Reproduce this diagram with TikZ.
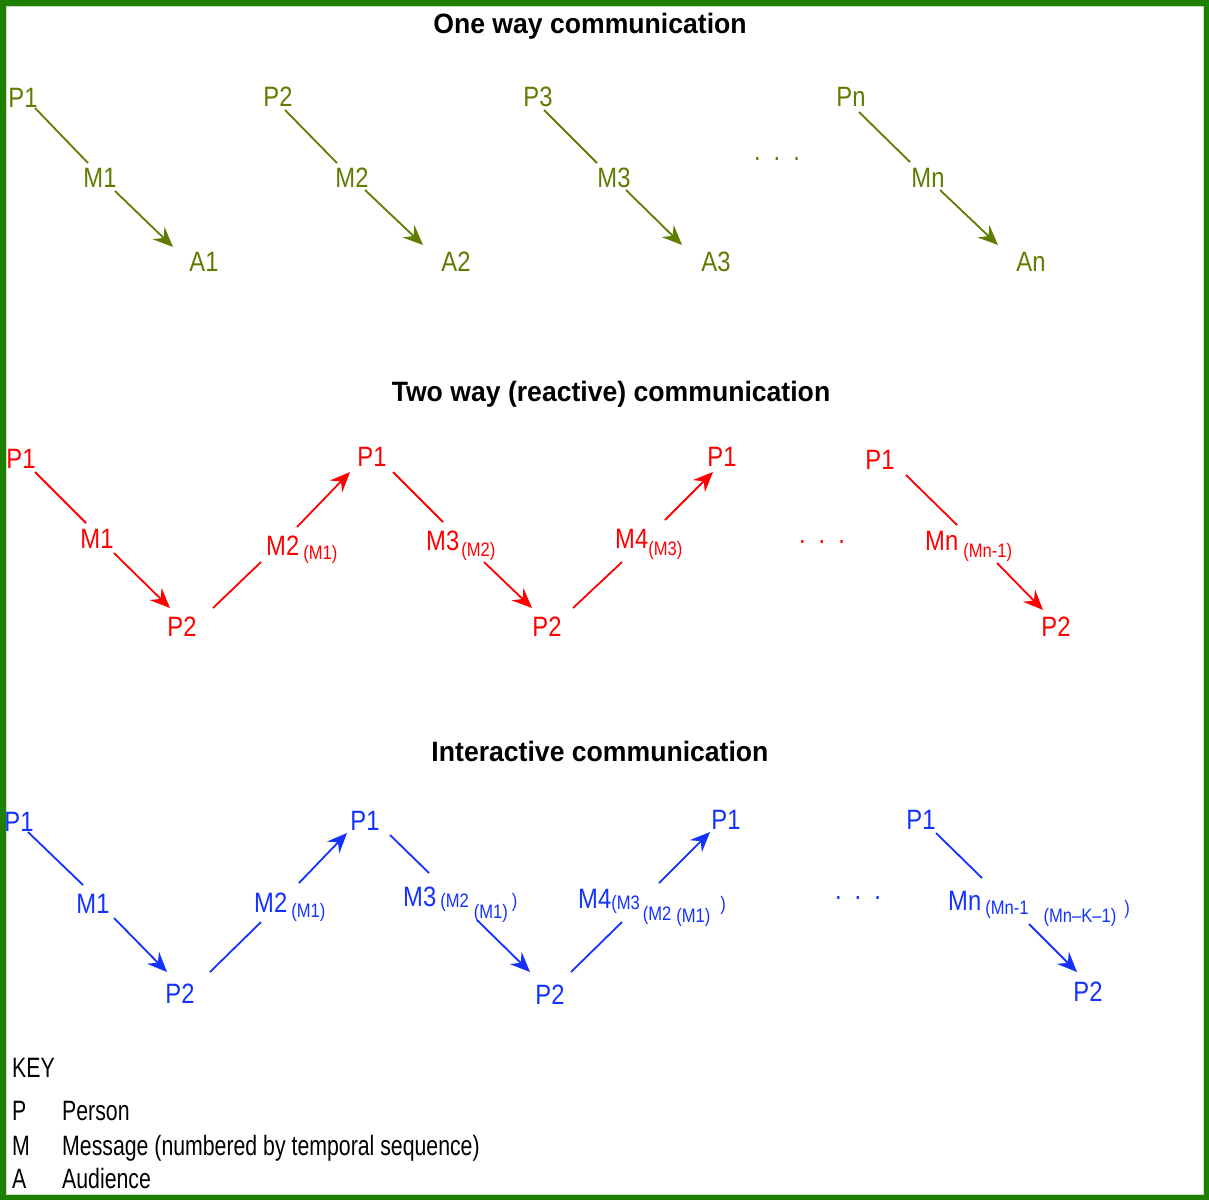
\documentclass[tikz,border=0pt]{standalone}
\usepackage{fontspec}
\setmainfont{Liberation Sans}
\newfontfamily\lblfont{Liberation Sans}[FakeStretch=0.85]
\newfontfamily\keyfont{Liberation Sans}[FakeStretch=0.76]
\newfontfamily\ttlfont{Liberation Sans}[FakeStretch=0.95]
\usetikzlibrary{arrows.meta}
\definecolor{olv}{RGB}{95,125,0}
\definecolor{rdc}{RGB}{255,0,0}
\definecolor{blc}{RGB}{20,50,255}
\definecolor{frm}{RGB}{30,128,0}
\definecolor{frmin}{RGB}{200,222,190}
\newcommand{\lowsub}[2]{\raisebox{-#1pt}{\fontsize{19.5}{20}\selectfont #2}}
\newcommand{\threedots}{.\hspace{13pt}.\hspace{13pt}.}
\begin{document}
\begin{tikzpicture}[x=1pt,y=-1pt,
  lbl/.style={inner sep=1pt, font=\lblfont\fontsize{28}{30}\selectfont},
  cmp/.style={lbl, inner sep=0pt, anchor=base west},
  ttl/.style={font=\ttlfont\bfseries\fontsize{28}{30}\selectfont, inner sep=0pt, anchor=base},
  keytxt/.style={font=\keyfont\fontsize{28}{30}\selectfont, inner sep=0pt, anchor=base west},
  seg/.style={line width=1.8pt},
  arw/.style={line width=1.8pt, -{Stealth[length=20pt,width=17pt,inset=7pt]}}]
\useasboundingbox (0,0) rectangle (1209,1200);
\fill[white] (0,0) rectangle (1209,1200);
\draw[frm, line width=5.5pt] (2.75,2.75) rectangle (1206.25,1197.25);
\draw[frmin, line width=1pt] (6,6) rectangle (1203,1194);

% ---------- titles ----------
\node[ttl] (t1) at (590,33) {One way communication};
\node[ttl] (t2) at (611,401) {Two way (reactive) communication};
\node[ttl] (t3) at (600,761) {Interactive communication};

% ---------- one way ----------
\begin{scope}[every node/.append style={text=olv}]
\node[lbl] (op1) at (23,98) {P1};
\node[lbl] (om1) at (100,178) {M1};
\node[lbl] (oa1) at (204,262) {A1};
\node[lbl] (op2) at (278,97) {P2};
\node[lbl] (om2) at (352,178) {M2};
\node[lbl] (oa2) at (456,262) {A2};
\node[lbl] (op3) at (538,97) {P3};
\node[lbl] (om3) at (614,178) {M3};
\node[lbl] (oa3) at (716,262) {A3};
\node[lbl, anchor=base] (odots) at (777,160) {\threedots};
\node[lbl] (opn) at (851,97) {Pn};
\node[lbl] (omn) at (928,178) {Mn};
\node[lbl] (oan) at (1031,262) {An};
\end{scope}
\begin{scope}[olv]
\draw[seg] ([shift={(12,10)}]op1.center) -- ([shift={(-12,-15)}]om1.center);
\draw[arw] ([shift={(15,13)}]om1.center) -- ([shift={(-31,-15)}]oa1.center);
\draw[seg] ([shift={(7,13)}]op2.center) -- ([shift={(-15,-15)}]om2.center);
\draw[arw] ([shift={(13,12)}]om2.center) -- ([shift={(-33,-17)}]oa2.center);
\draw[seg] ([shift={(6,13)}]op3.center) -- ([shift={(-17,-15)}]om3.center);
\draw[arw] ([shift={(12,12)}]om3.center) -- ([shift={(-34,-17)}]oa3.center);
\draw[seg] ([shift={(8,15)}]opn.center) -- ([shift={(-18,-16)}]omn.center);
\draw[arw] ([shift={(12,12)}]omn.center) -- ([shift={(-33,-17)}]oan.center);
\end{scope}

% ---------- two way (reactive) ----------
\begin{scope}[every node/.append style={text=rdc}]
\node[lbl] (rp1) at (21,459) {P1};
\node[lbl] (rm1) at (97,539) {M1};
\node[lbl] (rp2a) at (182,627) {P2};
\node[cmp] (rm2) at (266,555) {M2\hspace{4pt}\lowsub{4}{(M1)}};
\node[lbl] (rp1b) at (372,457) {P1};
\node[cmp] (rm3) at (426,550) {M3\hspace{2pt}\lowsub{6}{(M2)}};
\node[lbl] (rp2b) at (547,627) {P2};
\node[cmp] (rm4) at (615,548) {M4\lowsub{7}{(M3)}};
\node[lbl] (rp1c) at (722,457) {P1};
\node[lbl, anchor=base] (rdots) at (822,543) {\threedots};
\node[lbl] (rp1d) at (880,460) {P1};
\node[cmp] (rmn) at (925,550) {Mn\hspace{5pt}\lowsub{7}{(Mn-1)}};
\node[lbl] (rp2c) at (1056,627) {P2};
\end{scope}
\begin{scope}[rdc]
\draw[seg] ([shift={(14,13)}]rp1.center) -- ([shift={(-11,-16)}]rm1.center);
\draw[arw] ([shift={(17,14)}]rm1.center) -- ([shift={(-12,-19)}]rp2a.center);
\draw[seg] ([shift={(31,-19)}]rp2a.center) -- ([shift={(-5,7)}]rm2.base west);
\draw[arw] ([shift={(31,-28)}]rm2.base west) -- ([shift={(-22,15)}]rp1b.center);
\draw[seg] ([shift={(21,15)}]rp1b.center) -- ([shift={(17,-28)}]rm3.base west);
\draw[arw] ([shift={(58,12)}]rm3.base west) -- ([shift={(-15,-19)}]rp2b.center);
\draw[seg] ([shift={(26,-19)}]rp2b.center) -- ([shift={(7,14)}]rm4.base west);
\draw[arw] ([shift={(50,-28)}]rm4.base west) -- ([shift={(-9,15)}]rp1c.center);
\draw[seg] ([shift={(26,15)}]rp1d.center) -- ([shift={(32,-25)}]rmn.base west);
\draw[arw] ([shift={(72,13)}]rmn.base west) -- ([shift={(-13,-17)}]rp2c.center);
\end{scope}

% ---------- interactive ----------
\begin{scope}[every node/.append style={text=blc}]
\node[lbl] (bp1) at (19,822) {P1};
\node[lbl] (bm1) at (93,904) {M1};
\node[lbl] (bp2a) at (180,994) {P2};
\node[cmp] (bm2) at (254,912) {M2\hspace{4pt}\lowsub{5}{(M1)}};
\node[lbl] (bp1b) at (365,821) {P1};
\node[cmp] (bm3) at (403,906) {M3\hspace{4pt}\lowsub{1}{(M2}\hspace{5pt}\lowsub{12}{(M1)}\hspace{4pt}\lowsub{1}{)}};
\node[lbl] (bp2b) at (550,995) {P2};
\node[cmp] (bm4) at (578,908) {M4\lowsub{1}{(M3}\hspace{3pt}\lowsub{12}{(M2}\hspace{5pt}\lowsub{14}{(M1)}\hspace{10pt}\lowsub{2}{)}};
\node[lbl] (bp1c) at (726,820) {P1};
\node[lbl, anchor=base] (bdots) at (858,899) {\threedots};
\node[lbl] (bp1d) at (921,820) {P1};
\node[cmp] (bmn) at (948,910) {Mn\hspace{4pt}\lowsub{4}{(Mn-1}\hspace{15pt}\lowsub{12}{(Mn–K–1)}\hspace{8pt}\lowsub{4}{)}};
\node[lbl] (bp2c) at (1088,992) {P2};
\end{scope}
\begin{scope}[blc]
\draw[seg] ([shift={(9,10)}]bp1.center) -- ([shift={(-10,-19)}]bm1.center);
\draw[arw] ([shift={(21,14)}]bm1.center) -- ([shift={(-13,-22)}]bp2a.center);
\draw[seg] ([shift={(30,-22)}]bp2a.center) -- ([shift={(7,10)}]bm2.base west);
\draw[arw] ([shift={(45,-29)}]bm2.base west) -- ([shift={(-18,12)}]bp1b.center);
\draw[seg] ([shift={(25,14)}]bp1b.center) -- ([shift={(26,-33)}]bm3.base west);
\draw[arw] ([shift={(74,14)}]bm3.base west) -- ([shift={(-20,-23)}]bp2b.center);
\draw[seg] ([shift={(21,-23)}]bp2b.center) -- ([shift={(44,14)}]bm4.base west);
\draw[arw] ([shift={(81,-25)}]bm4.base west) -- ([shift={(-16,12)}]bp1c.center);
\draw[seg] ([shift={(15,13)}]bp1d.center) -- ([shift={(34,-32)}]bmn.base west);
\draw[arw] ([shift={(81,14)}]bmn.base west) -- ([shift={(-11,-20)}]bp2c.center);
\end{scope}

% ---------- key ----------
\node[keytxt] (key) at (12,1077) {KEY};
\node[keytxt] (kp) at (12,1120) {P};
\node[keytxt] (kpt) at (62,1120) {Person};
\node[keytxt] (km) at (12,1155) {M};
\node[keytxt] (kmt) at (62,1155) {Message (numbered by temporal sequence)};
\node[keytxt] (ka) at (12,1188) {A};
\node[keytxt] (kat) at (62,1188) {Audience};
\end{tikzpicture}
\end{document}
